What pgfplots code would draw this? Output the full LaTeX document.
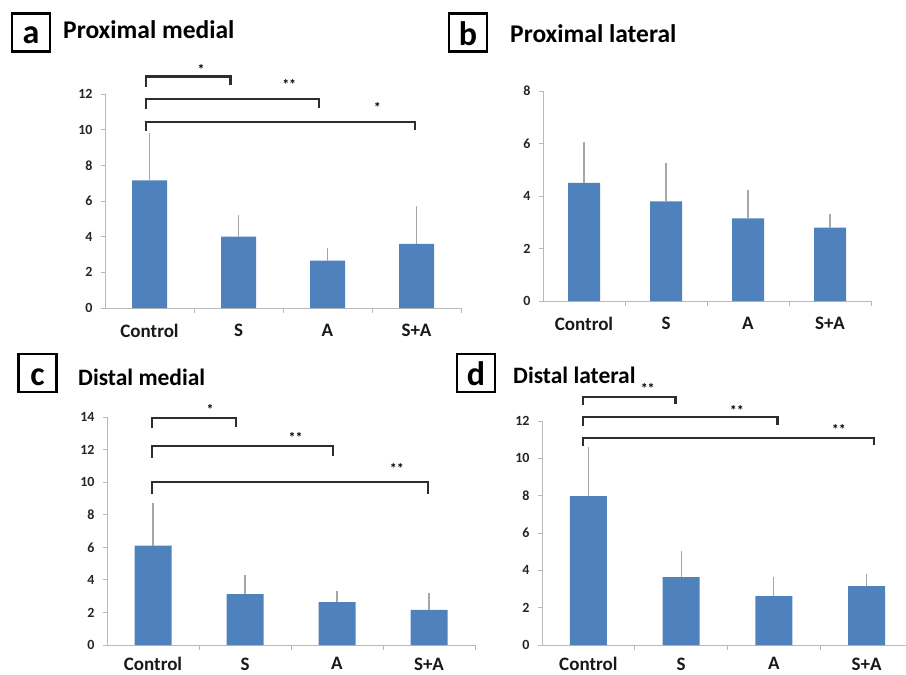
\documentclass[border=0pt]{standalone}
\usepackage{pgfplots}
\pgfplotsset{compat=1.18}
\usepackage{fontspec}
\setmainfont{Carlito}
\definecolor{barblue}{RGB}{79,129,189}
\definecolor{brk}{RGB}{45,45,45}
\pgfplotsset{
  panel/.style={
    scale only axis, ymin=0, xmin=-0.5, xmax=3.5,
    axis x line=bottom, axis y line=left,
    axis line style={-, draw=gray!55, line width=0.9pt},
    xtick={0,1,2,3}, xticklabels={Control,S,A,S+A},
    major x tick style={draw=none},
    minor xtick={0.5,1.5,2.5,3.5},
    minor x tick style={draw=gray!55, line width=0.9pt},
    tick align=outside, major tick length=4pt, minor tick length=5pt,
    y tick style={draw=gray!55, line width=0.9pt},
    ytick distance=2,
    yticklabel style={font=\fontsize{14}{15}\selectfont\bfseries, text=black!85, xshift=-5pt},
    xticklabel style={font=\fontsize{19}{21}\selectfont\bfseries, text=black!90, yshift=-9pt},
    /pgf/number format/assume math mode=true,
    clip=false,
  },
  bars/.style={ybar, fill=barblue, draw=none, bar width=#1,
    error bars/.cd, y dir=plus, y explicit,
    error bar style={gray!70, line width=1.1pt},
    error mark options={gray!70, mark size=2pt, line width=1.1pt}},
  bracket/.style={sharp plot, no marks, brk, line width=2.2pt, forget plot},
}
\tikzset{
  star/.style={font=\fontsize{14}{14}\selectfont\bfseries, inner sep=0pt},
  letterbox/.style={draw=black, line width=2.8pt, minimum width=38pt, minimum height=38pt, inner sep=0pt},
  letter/.style={anchor=base, inner sep=0pt, font=\fontsize{34}{34}\selectfont\bfseries},
  ptitle/.style={anchor=base west, inner sep=0pt, font=\fontsize{25.5}{28}\selectfont\bfseries},
  ptitleb/.style={anchor=base west, inner sep=0pt, font=\fontsize{23.5}{26}\selectfont\bfseries},
}
\begin{document}
\begin{tikzpicture}
\useasboundingbox (0,0) rectangle (906pt,-675pt);
% panel labels
\node[letterbox] at (31pt,-32.5pt) {};
\node[letter] at (31pt,-43pt) {a};
\node[ptitle] at (63pt,-38pt) {Proximal medial};
\node[letterbox] at (468pt,-32.5pt) {};
\node[letter] at (468pt,-45pt) {b};
\node[ptitle] at (510pt,-42pt) {Proximal lateral};
\node[letterbox] at (37.5pt,-373pt) {};
\node[letter] at (37.5pt,-385pt) {c};
\node[ptitleb] at (78pt,-385pt) {Distal medial};
\node[letterbox] at (476pt,-373pt) {};
\node[letter] at (476pt,-385pt) {d};
\node[ptitleb] at (513pt,-383pt) {Distal lateral};

% panel a
\begin{axis}[panel, at={(105pt,-308pt)}, anchor=south west, width=356pt, height=214pt, ymax=12]
\addplot[bars=35pt] coordinates {(0,7.15) +- (0,2.55) (1,4.0) +- (0,1.1) (2,2.65) +- (0,0.6) (3,3.6) +- (0,2.0)};
\addplot[bracket] coordinates {(-0.04,12.4) (-0.04,12.98) (0.91,12.98) (0.91,12.5)};
\addplot[bracket] coordinates {(-0.04,11.15) (-0.04,11.7) (1.9,11.7) (1.9,11.2)};
\addplot[bracket] coordinates {(-0.04,9.95) (-0.04,10.45) (2.98,10.45) (2.98,10.0)};
\node[star] at (axis cs:0.58,13.35) {*};
\node[star] at (axis cs:1.57,12.55) {**};
\node[star] at (axis cs:2.56,11.25) {*};
\end{axis}

% panel b
\begin{axis}[panel, at={(543pt,-301pt)}, anchor=south west, width=328pt, height=210pt, ymax=8]
\addplot[bars=32pt] coordinates {(0,4.5) +- (0,1.5) (1,3.8) +- (0,1.4) (2,3.15) +- (0,1.0) (3,2.8) +- (0,0.45)};
\end{axis}

% panel c
\begin{axis}[panel, at={(107pt,-645pt)}, anchor=south west, width=368pt, height=228pt, ymax=14,
  xticklabel style={yshift=4pt}]
\addplot[bars=37pt] coordinates {(0,6.1) +- (0,2.5) (1,3.13) +- (0,1.04) (2,2.64) +- (0,0.56) (3,2.15) +- (0,0.92)};
\addplot[bracket] coordinates {(-0.01,13.3) (-0.01,13.96) (0.9,13.96) (0.9,13.4)};
\addplot[bracket] coordinates {(-0.01,11.5) (-0.01,12.2) (1.96,12.2) (1.96,11.6)};
\addplot[bracket] coordinates {(-0.01,9.26) (-0.01,10.0) (2.99,10.0) (2.99,9.3)};
\node[star] at (axis cs:0.62,14.45) {*};
\node[star] at (axis cs:1.55,12.75) {**};
\node[star] at (axis cs:2.65,10.85) {**};
\end{axis}

% panel d
\begin{axis}[panel, at={(542pt,-645pt)}, anchor=south west, width=371pt, height=224pt, ymax=12,
  xticklabel style={yshift=4pt}]
\addplot[bars=37pt] coordinates {(0,7.98) +- (0,2.52) (1,3.64) +- (0,1.29) (2,2.62) +- (0,0.91) (3,3.16) +- (0,0.54)};
\addplot[bracket] coordinates {(-0.06,12.86) (-0.06,13.28) (0.94,13.28) (0.94,12.9)};
\addplot[bracket] coordinates {(-0.06,11.75) (-0.06,12.2) (2.04,12.2) (2.04,11.8)};
\addplot[bracket] coordinates {(-0.06,10.65) (-0.06,11.1) (3.08,11.1) (3.08,10.7)};
\node[star] at (axis cs:0.64,13.75) {**};
\node[star] at (axis cs:1.6,12.55) {**};
\node[star] at (axis cs:2.7,11.55) {**};
\end{axis}
\end{tikzpicture}
\end{document}
